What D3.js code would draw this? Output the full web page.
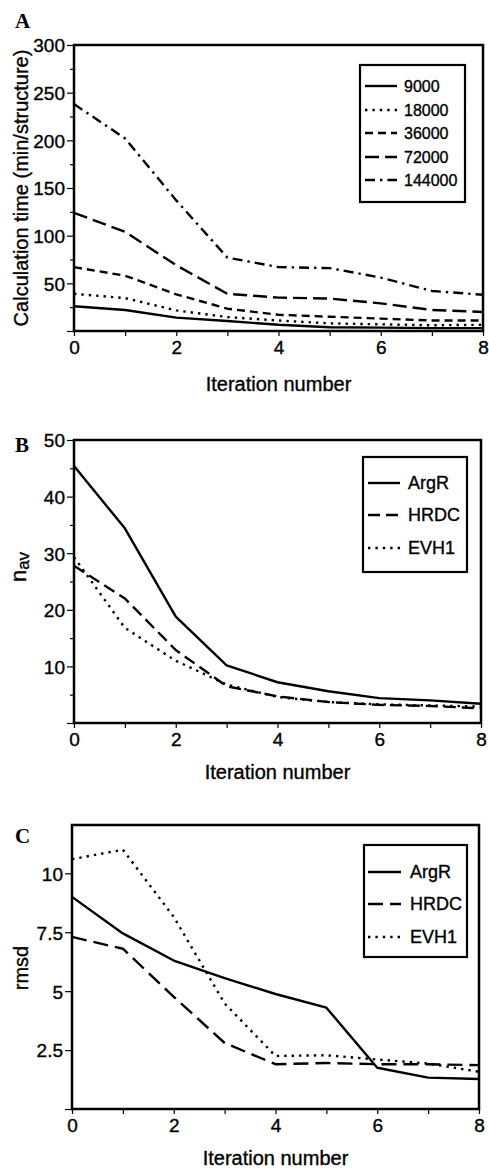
<!DOCTYPE html>
<html><head><meta charset="utf-8">
<script src="https://cdn.jsdelivr.net/npm/d3@7"></script>
<style>body{margin:0;background:#fff}svg{display:block}text{font-family:"Liberation Sans",Arial,sans-serif;fill:#000}</style>
</head><body>
<script>
const iterations = [0,1,2,3,4,5,6,7,8];

// Panel A: calculation time (min/structure)
const seriesA = ["9000","18000","36000","72000","144000"];
const timeA_9000   = [26,22,14,10.5,6.5,4,3.5,3,3];
const timeA_18000  = [39,34.5,21.6,14.6,11,8,7,6,6.5];
const timeA_36000  = [67,58,38.5,23.4,17,15,13,11,11];
const timeA_72000  = [124,104,69,39,35,34,29,22,20];
const timeA_144000 = [238,202,137,77,67,66,56,42,38];
const yTicksA = [0,50,100,150,200,250,300];

// Panel B: n_av
const seriesBC = ["ArgR","HRDC","EVH1"];
const navB_ArgR = [45.4,34.4,18.8,10.2,7.2,5.6,4.4,4,3.4];
const navB_HRDC = [27.8,22,12.9,6.5,4.7,3.7,3.2,3,2.6];
const navB_EVH1 = [29.3,16.8,11,6.8,4.6,3.7,3.3,3.1,2.9];
const yTicksB = [0,10,20,30,40,50];

// Panel C: rmsd
const rmsdC_ArgR = [9.0,7.45,6.3,5.55,4.88,4.3,1.75,1.33,1.27];
const rmsdC_HRDC = [7.3,6.8,4.76,2.8,1.9,1.95,1.9,1.9,1.86];
const rmsdC_EVH1 = [10.6,11.0,8.15,4.48,2.25,2.28,2.1,1.93,1.58];
const yTicksC = [0,2.5,5,7.5,10];

const xTicks = [0,2,4,6,8];
const xMinor = [1,3,5,7];

const svg = d3.select("body").append("svg").attr("width",489).attr("height",1172);

function panel(o){
  const x = d3.scaleLinear().domain([0,8]).range([o.x0,o.x1]);
  const y = d3.scaleLinear().domain(o.ydom).range([o.y1,o.y0]);
  const g = svg.append("g");
  const ya = d3.axisLeft(y).tickValues(o.yticks).tickSize(7).tickPadding(2)
    .tickFormat(d => d===0 ? "" : d3.format("")(d));
  const yg = g.append("g").attr("transform",`translate(${o.x0},0)`).call(ya);
  if(o.yminor){
    g.append("g").attr("transform",`translate(${o.x0},0)`)
      .call(d3.axisLeft(y).tickValues(o.yminor).tickSize(4).tickFormat(""));
  }
  const xa = d3.axisBottom(x).tickValues(xTicks).tickSize(5).tickPadding(5).tickFormat(d3.format("d"));
  g.append("g").attr("transform",`translate(0,${o.y1})`).call(xa);
  g.append("g").attr("transform",`translate(0,${o.y1})`)
    .call(d3.axisBottom(x).tickValues(xMinor).tickSize(5).tickFormat(""));
  g.selectAll(".domain").remove();
  g.selectAll(".tick line").attr("stroke","#000").attr("stroke-width",1.2);
  g.selectAll(".tick text").style("font-size","19px").attr("fill","#000")
    .attr("stroke","#000").attr("stroke-width",0.35);
  yg.selectAll(".tick text").attr("dy","0.36em");

  const line = d3.line().x((d,i)=>x(iterations[i])).y(d=>y(d));
  o.series.forEach(s=>{
    g.append("path").datum(s.values).attr("d",line)
      .attr("fill","none").attr("stroke","#000").attr("stroke-width",2.4)
      .attr("stroke-dasharray",s.dash||null).attr("stroke-linejoin","round");
  });
  g.append("rect").attr("x",o.x0).attr("y",o.y0).attr("width",o.x1-o.x0).attr("height",o.y1-o.y0)
    .attr("fill","none").attr("stroke","#000").attr("stroke-width",2.5);

  const L = o.legend;
  g.append("rect").attr("x",L.x0).attr("y",L.y0).attr("width",L.x1-L.x0).attr("height",L.y1-L.y0)
    .attr("fill","#fff").attr("stroke","#000").attr("stroke-width",2.2);
  o.series.forEach((s,i)=>{
    const cy = L.rows[i];
    g.append("line").attr("x1",L.lx0).attr("x2",L.lx1).attr("y1",cy).attr("y2",cy)
      .attr("stroke","#000").attr("stroke-width",2.4).attr("stroke-dasharray",s.dash||null);
    g.append("text").attr("x",L.tx).attr("y",cy).attr("dy","0.36em")
      .attr("stroke","#000").attr("stroke-width",0.35)
      .style("font-size",L.fs+"px").text(s.name);
  });

  svg.append("text").attr("x",o.letter[0]).attr("y",o.letter[1])
    .style("font-family","'Liberation Serif',serif").style("font-weight","bold").style("font-size","21px")
    .text(o.label);
  svg.append("text").attr("x",(o.x0+o.x1)/2).attr("y",o.xtitleY).attr("text-anchor","middle")
    .attr("stroke","#000").attr("stroke-width",0.35)
    .style("font-size","20px").text("Iteration number");
  return {g,x,y};
}

const dot = "2.4,5", dashM = "8,5", dashL = "14,6", dashDot = "10,5,2.4,5";

panel({label:"A", letter:[15,28], x0:74, x1:483, y0:45, y1:331, ydom:[0,300],
  yticks:yTicksA, yminor:[25,75,125,175,225,275], xtitleY:391,
  series:[
    {name:seriesA[0], values:timeA_9000},
    {name:seriesA[1], values:timeA_18000, dash:dot},
    {name:seriesA[2], values:timeA_36000, dash:dashM},
    {name:seriesA[3], values:timeA_72000, dash:dashL},
    {name:seriesA[4], values:timeA_144000, dash:dashDot}],
  legend:{x0:360,x1:465,y0:65,y1:202,rows:[86,110,133,157,180],lx0:365,lx1:397,tx:404,fs:16}
});
svg.append("text").attr("transform","translate(28,188) rotate(-90)").attr("text-anchor","middle")
  .attr("stroke","#000").attr("stroke-width",0.35)
  .style("font-size","20px").text("Calculation time (min/structure)");

panel({label:"B", letter:[15,452], x0:74, x1:481, y0:440, y1:723, ydom:[0,50],
  yticks:yTicksB, yminor:[5,15,25,35,45], xtitleY:779,
  series:[
    {name:seriesBC[0], values:navB_ArgR},
    {name:seriesBC[1], values:navB_HRDC, dash:"12,6"},
    {name:seriesBC[2], values:navB_EVH1, dash:dot}],
  legend:{x0:363,x1:467,y0:457,y1:572,rows:[483,515,548],lx0:368,lx1:400,tx:408,fs:18}
});
const tb = svg.append("text").attr("transform","translate(26,567) rotate(-90)").attr("text-anchor","middle")
  .attr("stroke","#000").attr("stroke-width",0.35);
tb.append("tspan").style("font-size","22px").text("n");
tb.append("tspan").style("font-size","17px").attr("dy","3").text("av");

panel({label:"C", letter:[15,843], x0:72, x1:479, y0:825, y1:1109, ydom:[0,12.05],
  yticks:yTicksC, yminor:null, xtitleY:1165,
  series:[
    {name:seriesBC[0], values:rmsdC_ArgR},
    {name:seriesBC[1], values:rmsdC_HRDC, dash:"15,7"},
    {name:seriesBC[2], values:rmsdC_EVH1, dash:dot}],
  legend:{x0:364,x1:467,y0:845,y1:957,rows:[872,904,937],lx0:368,lx1:401,tx:410,fs:18}
});
svg.append("text").attr("transform","translate(28,968) rotate(-90)").attr("text-anchor","middle")
  .attr("stroke","#000").attr("stroke-width",0.35)
  .style("font-size","20px").text("rmsd");
</script>
</body></html>
